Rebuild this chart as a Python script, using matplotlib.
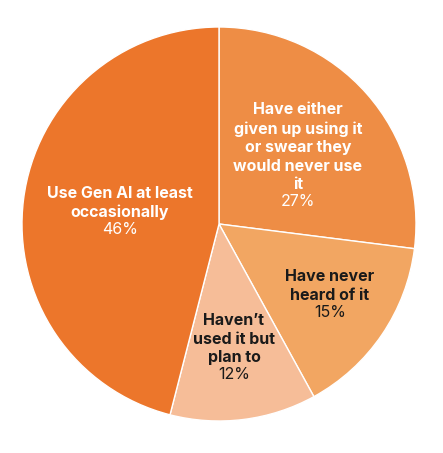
import matplotlib.pyplot as plt

labels = ['Have either\ngiven up using it\nor swear they\nwould never use\nit',
          'Have never\nheard of it',
          'Haven\u2019t\nused it but\nplan to',
          'Use Gen AI at least\noccasionally']
values = [27, 15, 12, 46]
colors = ['#EE8D45', '#F2A662', '#F6BD98', '#EC762B']
text_colors = ['white', '#1a1a1a', '#1a1a1a', 'white']
# label anchor (x centre, y of the percent line) in pie units
label_pos = [(0.401, 0.112), (0.563, -0.447), (0.076, -0.766), (-0.503, -0.030)]

plt.rcParams['font.family'] = ['Inter', 'DejaVu Sans']

fig = plt.figure(figsize=(4.43, 4.53), dpi=100)
ax = fig.add_axes([0, 0, 1, 1])

ax.pie(values, colors=colors, startangle=90, counterclock=False, radius=1,
       wedgeprops=dict(edgecolor='white', linewidth=1))

for lab, v, c, (x, y) in zip(labels, values, text_colors, label_pos):
    ax.text(x, y, f'{v}%', ha='center', va='center', fontsize=11.5, color=c)
    ax.text(x, y + 0.048, lab, ha='center', va='bottom', fontsize=11.5,
            fontweight='bold', color=c, linespacing=1.3, multialignment='center')

ax.set_xlim(-219 / 197, 224 / 197)
ax.set_ylim(-229 / 197, 224 / 197)
ax.set_aspect('equal')
ax.axis('off')

fig.savefig('out.png', dpi=100)
